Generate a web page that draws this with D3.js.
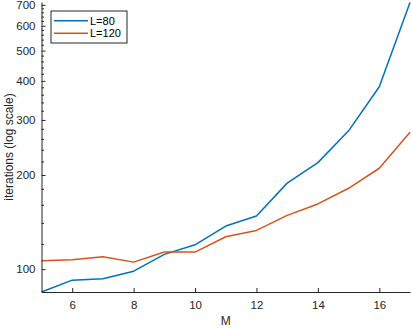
<!DOCTYPE html>
<html>
<head>
<meta charset="utf-8">
<script src="https://cdn.jsdelivr.net/npm/d3@7"></script>
<style>
  body { margin: 0; background: #fff; }
  svg { display: block; }
  text { font-family: "Liberation Sans", Arial, sans-serif; }
</style>
</head>
<body>
<script>
// values
const M = [5, 6, 7, 8, 9, 10, 11, 12, 13, 14, 15, 16, 17];
const L80 = [84.5, 92.2, 93.1, 98.5, 111.5, 119.6, 137.3, 147.9, 188.4, 219.1, 276.9, 383, 712];
const L120 = [106.3, 107.1, 109.5, 105.3, 113.4, 113.4, 126.9, 133, 148.6, 161.6, 181.4, 210.2, 274];
const seriesNames = ['L=80', 'L=120'];
const seriesColors = ['#0072BD', '#D95319'];
const xTicks = [6, 8, 10, 12, 14, 16];
const yTicks = [100, 200, 300, 400, 500, 600, 700];
const yMinor = d3.range(80, 720, 20).filter(v => yTicks.indexOf(v) < 0);

const W = 412, H = 328;
const mLeft = 41.5, mRight = 410, mTop = 2, mBottom = 292;

const svg = d3.select('body').append('svg').attr('width', W).attr('height', H);

const x = d3.scaleLinear().domain([5, 17]).range([mLeft, mRight]);
const y = d3.scaleLog().domain([84.5, 715]).range([mBottom, mTop]);

const axisColor = '#262626';

// lines
const line = d3.line().x((d, i) => x(M[i])).y(d => y(d));
[L80, L120].forEach((s, k) => {
  svg.append('path')
    .attr('d', line(s))
    .attr('fill', 'none')
    .attr('stroke', seriesColors[k])
    .attr('stroke-width', 1.5)
    .attr('stroke-linejoin', 'round');
});

// x axis
const xAxis = d3.axisBottom(x).tickValues(xTicks).tickSizeInner(-4).tickSizeOuter(0).tickPadding(9);
const gx = svg.append('g').attr('transform', `translate(0,${mBottom})`).call(xAxis);
gx.select('.domain').attr('stroke', axisColor);
gx.selectAll('.tick line').attr('stroke', axisColor);
gx.selectAll('.tick text').attr('fill', axisColor).attr('font-size', 11.5).style('font-family', '"Liberation Sans", Arial, sans-serif');

// y axis
const yAxis = d3.axisLeft(y).tickValues(yTicks).tickFormat(d3.format('d')).tickSizeInner(-4).tickSizeOuter(0).tickPadding(6);
const gy = svg.append('g').attr('transform', `translate(${mLeft},0)`).call(yAxis);
gy.select('.domain').attr('stroke', axisColor);
gy.selectAll('.tick line').attr('stroke', axisColor);
gy.selectAll('.tick text').attr('fill', axisColor).attr('font-size', 11.5).style('font-family', '"Liberation Sans", Arial, sans-serif');

// minor ticks on the log axis
gy.selectAll('.minor')
  .data(yMinor.filter(v => v >= 84.5 && v <= 715))
  .enter().append('line')
  .attr('class', 'minor')
  .attr('x1', 0).attr('x2', 2.5)
  .attr('y1', d => y(d)).attr('y2', d => y(d))
  .attr('stroke', axisColor);

// axis labels
svg.append('text')
  .attr('x', (mLeft + mRight) / 2).attr('y', 325)
  .attr('text-anchor', 'middle')
  .attr('font-size', 12)
  .attr('fill', axisColor)
  .text('M');

svg.append('text')
  .attr('transform', `translate(13,${(mTop + mBottom) / 2}) rotate(-90)`)
  .attr('text-anchor', 'middle')
  .attr('font-size', 12)
  .attr('fill', axisColor)
  .text('iterations (log scale)');

// legend
const lg = svg.append('g').attr('transform', 'translate(51,11)');
lg.append('rect')
  .attr('width', 76).attr('height', 32)
  .attr('fill', '#fff')
  .attr('stroke', axisColor)
  .attr('stroke-width', 1);
seriesNames.forEach((name, k) => {
  const yy = 9.7 + k * 12.6;
  lg.append('line')
    .attr('x1', 3).attr('x2', 37)
    .attr('y1', yy).attr('y2', yy)
    .attr('stroke', seriesColors[k])
    .attr('stroke-width', 1.5);
  lg.append('text')
    .attr('x', 39).attr('y', yy + 4)
    .attr('font-size', 11)
    .attr('fill', '#000')
    .text(name);
});
</script>
</body>
</html>
